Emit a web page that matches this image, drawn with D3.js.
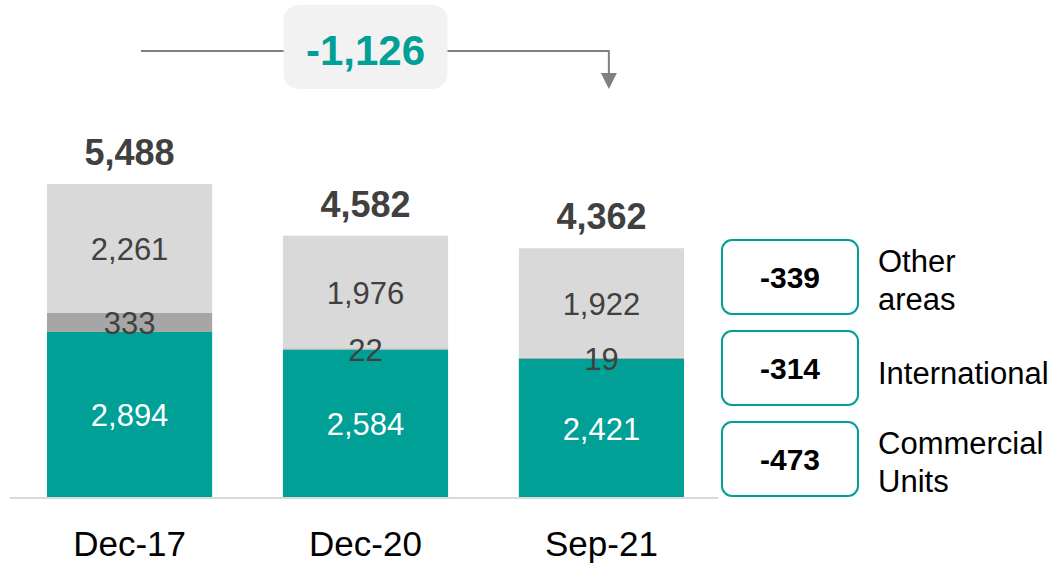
<!DOCTYPE html>
<html>
<head>
<meta charset="utf-8">
<script src="https://d3js.org/d3.v7.min.js"></script>
<style>
  body { margin: 0; background: #fff; }
  svg text { font-family: "Liberation Sans", Arial, sans-serif; }
</style>
</head>
<body>
<svg width=1058 height=564></svg>

<script>
// data
var periods = ['Dec-17', 'Dec-20', 'Sep-21'];
var commercial = [2894, 2584, 2421];
var international = [333, 22, 19];
var otherAreas = [2261, 1976, 1922];
var totals = [5488, 4582, 4362];
var totalChange = -1126;
var legendNames = [['Other', 'areas'], ['International'], ['Commercial', 'Units']];
var legendChanges = [-339, -314, -473];

var teal = '#00a097';
// plain hyphen for negatives, like the original slide
var fmt = d3.formatLocale({ decimal: '.', thousands: ',', grouping: [3], currency: ['$', ''], minus: '-' }).format(',');

var svg = d3.select('svg');

var x = d3.scaleBand()
    .domain(periods)
    .range([47, 684])
    .paddingInner(0.3);

var y = d3.scaleLinear()
    .domain([0, 5488])
    .range([497, 184]);

// build stack rows
var rows = periods.map(function(p, i) {
  return { period: p, commercial: commercial[i], international: international[i], other: otherAreas[i] };
});
var keys = ['commercial', 'international', 'other'];
var fills = { commercial: teal, international: '#a6a6a6', other: '#d9d9d9' };
var labelColors = { commercial: '#ffffff', international: '#404040', other: '#404040' };
var stacked = d3.stack().keys(keys)(rows);

var layers = svg.append('g')
  .selectAll('g')
  .data(stacked)
  .enter()
  .append('g')
    .attr('fill', function(d) { return fills[d.key]; });

layers.selectAll('rect')
  .data(function(d) { return d; })
  .enter()
  .append('rect')
    .attr('x', function(d) { return x(d.data.period); })
    .attr('width', x.bandwidth())
    .attr('y', function(d) { return y(d[1]); })
    .attr('height', function(d) { return y(d[0]) - y(d[1]); });

// segment labels
stacked.forEach(function(layer) {
  svg.append('g')
    .selectAll('text')
    .data(layer)
    .enter()
    .append('text')
      .attr('x', function(d) { return x(d.data.period) + x.bandwidth() / 2; })
      .attr('y', function(d) { return (y(d[0]) + y(d[1])) / 2 + 12; })
      .attr('text-anchor', 'middle')
      .attr('font-size', 31)
      .attr('fill', labelColors[layer.key])
      .text(function(d) { return fmt(d.data[layer.key]); });
});

// totals
svg.append('g')
  .selectAll('text')
  .data(totals)
  .enter()
  .append('text')
    .attr('x', function(d, i) { return x(periods[i]) + x.bandwidth() / 2; })
    .attr('y', function(d) { return y(d) - 19; })
    .attr('text-anchor', 'middle')
    .attr('font-size', 36)
    .attr('font-weight', 'bold')
    .attr('fill', '#404040')
    .text(function(d) { return fmt(d); });

// baseline
svg.append('line')
  .attr('x1', 10).attr('x2', 718)
  .attr('y1', y(0) + 1).attr('y2', y(0) + 1)
  .attr('stroke', '#d9d9d9')
  .attr('stroke-width', 2);

// category labels
svg.append('g')
  .selectAll('text')
  .data(periods)
  .enter()
  .append('text')
    .attr('x', function(d) { return x(d) + x.bandwidth() / 2; })
    .attr('y', 556)
    .attr('text-anchor', 'middle')
    .attr('font-size', 35)
    .attr('fill', '#000')
    .text(function(d) { return d; });

// overall change arrow
var midX = x(periods[1]) + x.bandwidth() / 2;
var startX = x(periods[0]) + 94;
var endX = x(periods[2]) + 90;
var lineY = 51;

svg.append('path')
  .attr('d', 'M' + startX + ',' + lineY + 'H' + endX + 'V74')
  .attr('fill', 'none')
  .attr('stroke', '#808080')
  .attr('stroke-width', 2);

svg.append('path')
  .attr('d', 'M' + (endX - 8) + ',73L' + (endX + 8) + ',73L' + endX + ',89Z')
  .attr('fill', '#808080');

svg.append('rect')
  .attr('x', midX - 82).attr('y', 5)
  .attr('width', 164).attr('height', 84)
  .attr('rx', 15)
  .attr('fill', '#f2f2f2');

svg.append('text')
  .attr('x', midX)
  .attr('y', 65)
  .attr('text-anchor', 'middle')
  .attr('font-size', 42)
  .attr('font-weight', 'bold')
  .attr('fill', teal)
  .text(fmt(totalChange));

// legend with change boxes
var legend = svg.append('g')
  .selectAll('g')
  .data(legendChanges)
  .enter()
  .append('g')
    .attr('transform', function(d, i) { return 'translate(0,' + (240 + i * 91) + ')'; });

legend.append('rect')
  .attr('x', 722).attr('y', 0)
  .attr('width', 136).attr('height', 74)
  .attr('rx', 10)
  .attr('fill', '#fff')
  .attr('stroke', teal)
  .attr('stroke-width', 2);

legend.append('text')
  .attr('x', 790)
  .attr('y', 48)
  .attr('text-anchor', 'middle')
  .attr('font-size', 30)
  .attr('font-weight', 'bold')
  .attr('fill', '#000')
  .text(function(d) { return fmt(d); });

legend.each(function(d, i) {
  var lines = legendNames[i];
  var g = d3.select(this);
  lines.forEach(function(t, j) {
    g.append('text')
      .attr('x', 878)
      .attr('y', lines.length === 1 ? 53 : 32 + j * 38)
      .attr('font-size', 31)
      .attr('fill', '#000')
      .text(t);
  });
});
</script>
</body>
</html>
